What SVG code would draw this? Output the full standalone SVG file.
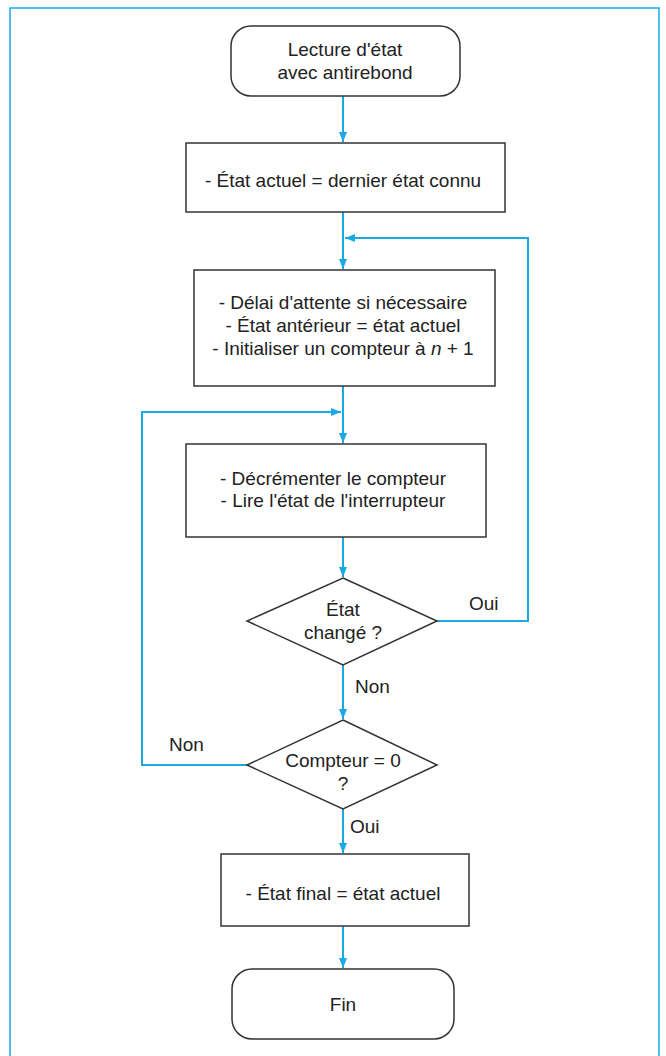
<svg xmlns="http://www.w3.org/2000/svg" width="666" height="1056" viewBox="0 0 666 1056">
<defs>
<marker id="ah" viewBox="0 0 10 8" refX="10" refY="4" markerWidth="10" markerHeight="8" markerUnits="userSpaceOnUse" orient="auto">
<path d="M0,0 L10,4 L0,8 Z" fill="#1aa9e2"/>
</marker>
</defs>
<style>
.n{fill:#fff;stroke:#333;stroke-width:1.5}
.c{fill:none;stroke:#1aa9e2;stroke-width:2}
text{font-family:"Liberation Sans",Arial,sans-serif;font-size:19px;fill:#222;text-anchor:middle}
.l{text-anchor:start}
</style>
<rect x="10" y="8" width="649" height="1060" fill="none" stroke="#1aa9e2" stroke-width="1.5"/>
<g id="connectors">
<line class="c" x1="343" y1="96" x2="343" y2="142" marker-end="url(#ah)"/>
<line class="c" x1="343" y1="212" x2="343" y2="269" marker-end="url(#ah)"/>
<polyline class="c" points="437,621 528,621 528,238 345,238" marker-end="url(#ah)"/>
<line class="c" x1="343" y1="386" x2="343" y2="443" marker-end="url(#ah)"/>
<polyline class="c" points="247,765 142,765 142,412 341,412" marker-end="url(#ah)"/>
<line class="c" x1="343" y1="537" x2="343" y2="577" marker-end="url(#ah)"/>
<line class="c" x1="343" y1="665" x2="343" y2="719" marker-end="url(#ah)"/>
<line class="c" x1="343" y1="809" x2="343" y2="853" marker-end="url(#ah)"/>
<line class="c" x1="343" y1="926" x2="343" y2="968" marker-end="url(#ah)"/>
<text class="l" x="469" y="610">Oui</text>
<text class="l" x="355" y="693">Non</text>
<text class="l" x="169" y="751">Non</text>
<text class="l" x="350" y="833">Oui</text>
</g>
<g id="start">
<rect class="n" x="231" y="26" width="229" height="70" rx="20"/>
<text x="345" y="56">Lecture d'état</text>
<text x="345" y="79">avec antirebond</text>
</g>
<g id="init">
<rect class="n" x="186" y="143" width="319" height="69"/>
<text x="343" y="187">- État actuel = dernier état connu</text>
</g>
<g id="prep">
<rect class="n" x="194" y="270" width="301" height="116"/>
<text x="343" y="309">- Délai d'attente si nécessaire</text>
<text x="343" y="332">- État antérieur = état actuel</text>
<text x="343" y="355">- Initialiser un compteur à <tspan font-style="italic">n</tspan> + 1</text>
</g>
<g id="read">
<rect class="n" x="186" y="444" width="300" height="93"/>
<text x="333" y="485">- Décrémenter le compteur</text>
<text x="333" y="507">- Lire l'état de l'interrupteur</text>
</g>
<g id="changed">
<polygon class="n" points="343,578 437,621 343,665 247,621"/>
<text x="343" y="616">État</text>
<text x="343" y="639">changé ?</text>
</g>
<g id="zero">
<polygon class="n" points="343,720 437,765 343,809 247,765"/>
<text x="343" y="767">Compteur = 0</text>
<text x="343" y="790">?</text>
</g>
<g id="final">
<rect class="n" x="221" y="854" width="248" height="72"/>
<text x="343" y="900">- État final = état actuel</text>
</g>
<g id="end">
<rect class="n" x="232" y="969" width="222" height="70" rx="20"/>
<text x="343" y="1011">Fin</text>
</g>
</svg>
